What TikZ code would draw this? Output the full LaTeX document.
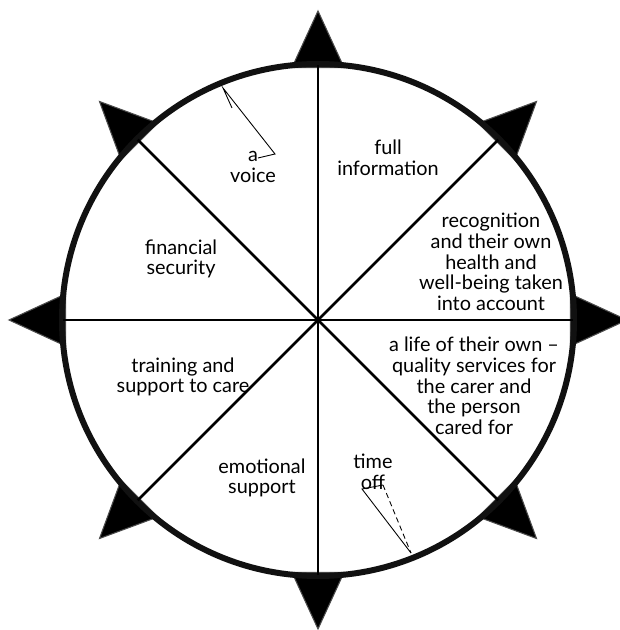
\documentclass[tikz,border=0pt]{standalone}
\usepackage{fontspec}
\setmainfont{Lato}
\usepackage{xcolor}
\usetikzlibrary{calc}
\definecolor{rimline}{HTML}{111111}

\begin{document}
\begin{tikzpicture}[
    rim/.style={draw=rimline, line width=3.4pt},
    spoke/.style={draw=black, line width=1.5pt},
    spike/.style={fill=black, draw=black!70, line width=0.6pt, line join=miter},
    penmark/.style={draw=black, line width=0.5pt},
    lbl/.style={align=center, font=\fontsize{11.3}{11.8}\selectfont, inner sep=1pt}]
\useasboundingbox (-6.36,-6.2) rectangle (6.02,6.4);
% --- spikes round the rim ---
\foreach \a in {0,45,...,315}{
  \filldraw[spike] ($(\a:5.05)+(\a+90:0.52)$) -- (\a:6.18) -- ($(\a:5.05)+(\a-90:0.52)$) -- cycle;
}
% --- wheel ---
\coordinate (hub) at (0,0);
\draw[rim] (hub) circle (5.12);
\foreach \a in {0,45,...,315}{\draw[spoke] (hub) -- (\a:5.1);}

% --- segments ---
\node[lbl] (voice) at (-1.30,3.06) {a\\voice};
\node[lbl] (info) at (1.40,3.24) {full\\information};
\node[lbl] (recog) at (3.46,1.16) {recognition\\and their own\\health and\\well-being taken\\into account};
\node[lbl] (life) at (3.12,-1.32) {a life of their own --\\quality services for\\the carer and\\the person\\cared for};
\node[lbl] (timeoff) at (1.10,-3.04) {time\\off};
\node[lbl] (emot) at (-1.12,-3.16) {emotional\\support};
\node[lbl] (train) at (-2.70,-1.14) {training and\\support to care};
\node[lbl] (money) at (-2.74,1.22) {financial\\security};

% --- pen marks ---
\draw[penmark] (-1.72,4.24) -- (-1.90,4.64) -- (-0.86,3.32) -- (-1.20,3.24);
\draw[penmark] (1.30,-3.30) -- (0.88,-3.38) -- (1.86,-4.66);
\draw[penmark, densely dashed] (1.30,-3.30) -- (1.86,-4.66);
\end{tikzpicture}
\end{document}
